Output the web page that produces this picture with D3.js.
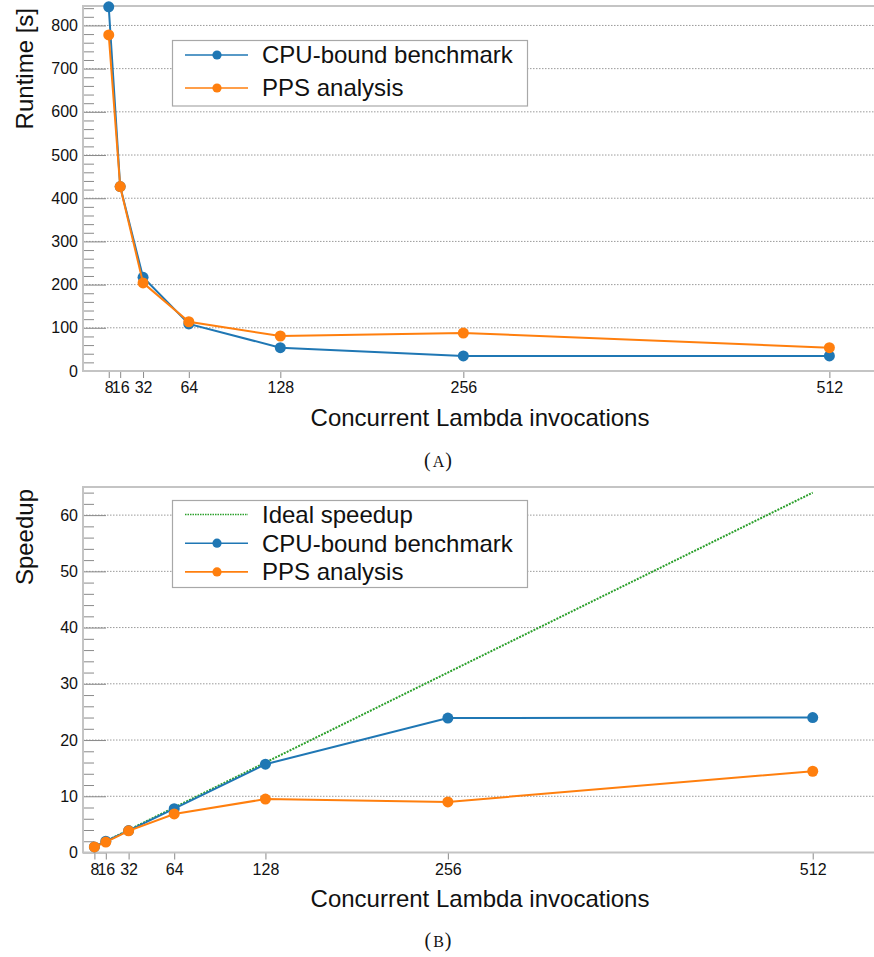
<!DOCTYPE html>
<html>
<head>
<meta charset="utf-8">
<script src="https://cdn.jsdelivr.net/npm/d3@7/dist/d3.min.js"></script>
<style>
  html, body { margin: 0; padding: 0; background: #fff; }
  svg { display: block; }
  text { font-family: "Liberation Sans", Arial, Helvetica, sans-serif; fill: #111; }
  text.caption { font-family: "Liberation Serif", "DejaVu Serif", serif; }
</style>
</head>
<body>
<svg id="chart" width="874" height="957"></svg>
<script>
// Concurrent Lambda invocations on the x axis
const invocations = [8, 16, 32, 64, 128, 256, 512];
const xTickLabels = ["8", "16", "32", "64", "128", "256", "512"];

// Runtime in seconds
const runtimeCpu = [843, 427, 217, 109, 54, 35, 35];
const runtimePps = [778, 427, 204, 114, 81, 88, 54];

// Speedup relative to 8 invocations
const speedupIdeal = [1, 2, 4, 8, 16, 32, 64];
const speedupCpu = [1, 2.0, 3.9, 7.8, 15.7, 23.9, 24.0];
const speedupPps = [1, 1.85, 3.85, 6.85, 9.5, 9.0, 14.45];

const seriesNames = ["Ideal speedup", "CPU-bound benchmark", "PPS analysis"];
const colors = { ideal: "#2ca02c", cpu: "#1f77b4", pps: "#ff7f0e" };

const svg = d3.select("#chart");

function drawPanel(cfg) {
  const g = svg.append("g");
  const x = d3.scaleLinear().domain(cfg.xDomain).range([cfg.left, cfg.right]);
  const y = d3.scaleLinear().domain(cfg.yDomain).range([cfg.bottom, cfg.top]);

  // dotted horizontal grid at major ticks
  const majors = d3.range(cfg.yMajor, cfg.yDomain[1] + 1e-9, cfg.yMajor);
  g.append("g").selectAll("line").data(majors).join("line")
    .attr("x1", cfg.left).attr("x2", cfg.right)
    .attr("y1", d => y(d)).attr("y2", d => y(d))
    .attr("stroke", "#9a9a9a").attr("stroke-width", 1)
    .attr("stroke-dasharray", "1.5,1.5");

  // y axis: ticks point into the plot
  const minors = d3.range(0, cfg.yDomain[1] + 1e-9, cfg.yMinor)
    .filter(v => Math.abs(v / cfg.yMajor - Math.round(v / cfg.yMajor)) > 1e-6);
  const yAxisMajor = d3.axisRight(y).tickValues(d3.range(0, cfg.yDomain[1] + 1e-9, cfg.yMajor))
    .tickSize(23).tickFormat("");
  const yAxisMinor = d3.axisRight(y).tickValues(minors).tickSize(11).tickFormat("");
  const ya = g.append("g").attr("transform", `translate(${cfg.left},0)`).call(yAxisMajor);
  const yb = g.append("g").attr("transform", `translate(${cfg.left},0)`).call(yAxisMinor);
  [ya, yb].forEach(s => {
    s.select(".domain").remove();
    s.selectAll(".tick line").attr("stroke", "#8a8a8a").attr("stroke-width", 1);
  });
  const yLabels = d3.axisLeft(y).tickValues(d3.range(0, cfg.yDomain[1] + 1e-9, cfg.yMajor))
    .tickSize(0).tickPadding(5);
  const yl = g.append("g").attr("transform", `translate(${cfg.left},0)`).call(yLabels);
  yl.select(".domain").remove();
  yl.selectAll("text").attr("font-size", 16).attr("fill", "#111");

  // x axis: ticks point outward
  const xAxis = d3.axisBottom(x).tickValues(invocations)
    .tickFormat((d, i) => xTickLabels[i]).tickSize(7).tickPadding(4);
  const xa = g.append("g").attr("transform", `translate(0,${cfg.bottom})`).call(xAxis);
  xa.select(".domain").remove();
  xa.selectAll(".tick line").attr("stroke", "#8a8a8a");
  xa.selectAll("text").attr("font-size", 16).attr("fill", "#111");

  // frame: left, bottom, top
  const frame = g.append("g").attr("stroke", "#c4c4c4").attr("stroke-width", 2).attr("fill", "none");
  frame.append("line").attr("x1", cfg.left).attr("x2", cfg.right).attr("y1", cfg.bottom).attr("y2", cfg.bottom);
  frame.append("line").attr("x1", cfg.left).attr("x2", cfg.right).attr("y1", cfg.top).attr("y2", cfg.top);
  frame.append("line").attr("x1", cfg.left).attr("x2", cfg.left).attr("y1", cfg.top - 1).attr("y2", cfg.bottom + 1);

  // series
  const line = d3.line().x((d, i) => x(invocations[i])).y(d => y(d));
  cfg.series.forEach(s => {
    g.append("path").datum(s.values)
      .attr("d", line).attr("fill", "none")
      .attr("stroke", s.color).attr("stroke-width", 2)
      .attr("stroke-dasharray", s.dotted ? "2,1.2" : null);
    if (!s.dotted) {
      g.append("g").selectAll("circle").data(s.values).join("circle")
        .attr("cx", (d, i) => x(invocations[i])).attr("cy", d => y(d))
        .attr("r", 5.5).attr("fill", s.color);
    }
  });

  // axis titles
  g.append("text")
    .attr("transform", `translate(${cfg.yTitleX},${cfg.top + 2}) rotate(-90)`)
    .attr("text-anchor", "end").attr("font-size", 24)
    .text(cfg.yTitle);
  g.append("text")
    .attr("x", 480).attr("y", cfg.xTitleY)
    .attr("text-anchor", "middle").attr("font-size", 24)
    .text("Concurrent Lambda invocations");

  // legend
  const lg = g.append("g");
  lg.append("rect")
    .attr("x", 172.5).attr("y", cfg.legendTop)
    .attr("width", 355).attr("height", cfg.legendHeight)
    .attr("fill", "#fff").attr("stroke", "#a8a8a8").attr("stroke-width", 1.2);
  cfg.series.forEach((s, i) => {
    const ry = cfg.legendFirstRow + i * cfg.legendStep;
    lg.append("line").attr("x1", 185).attr("x2", 248).attr("y1", ry).attr("y2", ry)
      .attr("stroke", s.color).attr("stroke-width", 1.6)
      .attr("stroke-dasharray", s.dotted ? "1.5,1" : null);
    if (!s.dotted) {
      lg.append("circle").attr("cx", 217).attr("cy", ry).attr("r", 4.6).attr("fill", s.color);
    }
    lg.append("text").attr("x", 262).attr("y", ry).attr("dy", "0.35em")
      .attr("font-size", 24).text(s.name);
  });

  // caption: parenthesised small-capital letter
  const cap = svg.append("text")
    .attr("class", "caption")
    .attr("x", 438).attr("y", cfg.captionY)
    .attr("text-anchor", "middle")
    .attr("font-size", 20);
  cap.append("tspan").text("(");
  cap.append("tspan").attr("font-size", 16).attr("dx", 2).text(cfg.caption);
  cap.append("tspan").attr("dx", 1).text(")");
}

drawPanel({
  left: 83, right: 874, top: 6, bottom: 371,
  xDomain: [-10, 543.2], yDomain: [0, 845],
  yMajor: 100, yMinor: 20,
  yTitle: "Runtime [s]", yTitleX: 33, xTitleY: 426,
  legendTop: 40.5, legendHeight: 65.5, legendFirstRow: 55, legendStep: 33,
  caption: "A", captionY: 467,
  series: [
    { name: seriesNames[1], values: runtimeCpu, color: colors.cpu },
    { name: seriesNames[2], values: runtimePps, color: colors.pps }
  ]
});

drawPanel({
  left: 83, right: 874, top: 487, bottom: 852.5,
  xDomain: [0, 555], yDomain: [0, 65],
  yMajor: 10, yMinor: 2,
  yTitle: "Speedup", yTitleX: 33, xTitleY: 907,
  legendTop: 500.5, legendHeight: 87, legendFirstRow: 514.5, legendStep: 28.7,
  caption: "B", captionY: 947,
  series: [
    { name: seriesNames[0], values: speedupIdeal, color: colors.ideal, dotted: true },
    { name: seriesNames[1], values: speedupCpu, color: colors.cpu },
    { name: seriesNames[2], values: speedupPps, color: colors.pps }
  ]
});
</script>
</body>
</html>
